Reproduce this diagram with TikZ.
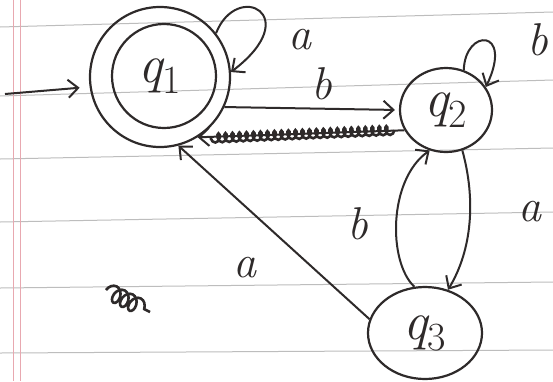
\documentclass[tikz,border=0pt]{standalone}
\usetikzlibrary{arrows.meta,shapes.geometric,decorations.pathmorphing}
\definecolor{ink}{HTML}{2E2A2A}
\definecolor{rule}{HTML}{BDBDBD}
\definecolor{margin}{HTML}{E8A8B0}
\tikzset{
  state/.style={ellipse,draw=ink,line width=2.2pt,inner sep=0pt,font=\fontsize{54}{54}\selectfont\itshape},
  edge/.style={draw=ink,line width=2pt,-{Straight Barb[length=10pt,width=18pt,line width=2pt]}},
  lab/.style={font=\fontsize{46}{46}\selectfont\itshape,text=ink,inner sep=0pt},
  scribble/.style={draw=ink,line width=2.6pt,decorate,decoration={coil,aspect=0.6,segment length=7pt,amplitude=4.5pt}},
  paper/.style={draw=rule,line width=1pt},
  marginline/.style={draw=margin,line width=1pt}
}
\newcommand{\qsub}[1]{\raisebox{-11pt}{\fontsize{40}{40}\selectfont\upshape #1}}
\begin{document}
\begin{tikzpicture}[x=1pt,y=-1pt]
\useasboundingbox (0,0) rectangle (553,381);
\fill[white] (0,0) rectangle (553,381);
% lined paper
\draw[paper] (0,27) -- (553,12);
\draw[paper] (0,96) -- (553,80);
\draw[paper] (0,159) -- (553,148);
\draw[paper] (0,222) -- (553,212);
\draw[paper] (0,288) -- (553,282);
\draw[paper] (0,353) -- (553,350);
\draw[marginline] (13,0) -- (13,381);
\draw[marginline] (20,0) -- (20,381);
% states
\node[state,minimum width=140pt,minimum height=140pt] (q1o) at (160,77) {};
\node[state,minimum width=104pt,minimum height=104pt,text=ink] (q1) at (164,76) {\hspace*{-8pt}q\qsub{1}};
\node[state,minimum width=92pt,minimum height=84pt,text=ink] (q2) at (446,110) {q\qsub{2}};
\node[state,minimum width=114pt,minimum height=92pt,text=ink] (q3) at (425,333) {q\qsub{3}};
% initial arrow
\coordinate (init) at (5,94);
\draw[edge,shorten >=10pt] (init) -- (q1o.188);
% self loops
\draw[edge] (q1o.38) .. controls (237,-20) and (306,15) .. (q1o.4);
\draw[edge] (q2.66) .. controls (465,28) and (514,28) .. (q2.30);
% q1 -> q2
\draw[edge,shorten >=4pt] (q1o.-25) -- (q2.west);
% scribbled q2 -> q1
\draw[edge] (q2.206) -- (q1o.-58);
\draw[scribble] ([xshift=-10pt]q2.206) -- ([xshift=12pt,yshift=-1pt]q1o.-58);
% q2 <-> q3
\draw[edge] (q2.-68) .. controls (476,200) and (472,250) .. (q3.62);
\draw[edge] (q3.103) .. controls (388,262) and (388,180) .. (q2.-112);
% q3 -> q1
\draw[edge] (q3.166) -- (q1o.-75);
% labels
\node[lab] (la1) at (300,40) {a};
\node[lab] (lb2) at (538,40) {b};
\node[lab] (lb12) at (322,84) {b};
\node[lab] (lb32) at (358,224) {b};
\node[lab] (la23) at (530,212) {a};
\node[lab] (la31) at (245,268) {a};
% crossed-out mark
\coordinate (s1) at (106,290);
\coordinate (s2) at (150,312);
\draw[scribble,line width=2.6pt,decoration={coil,aspect=0.7,segment length=9pt,amplitude=8pt}] (s1) -- (s2);
\end{tikzpicture}
\end{document}
